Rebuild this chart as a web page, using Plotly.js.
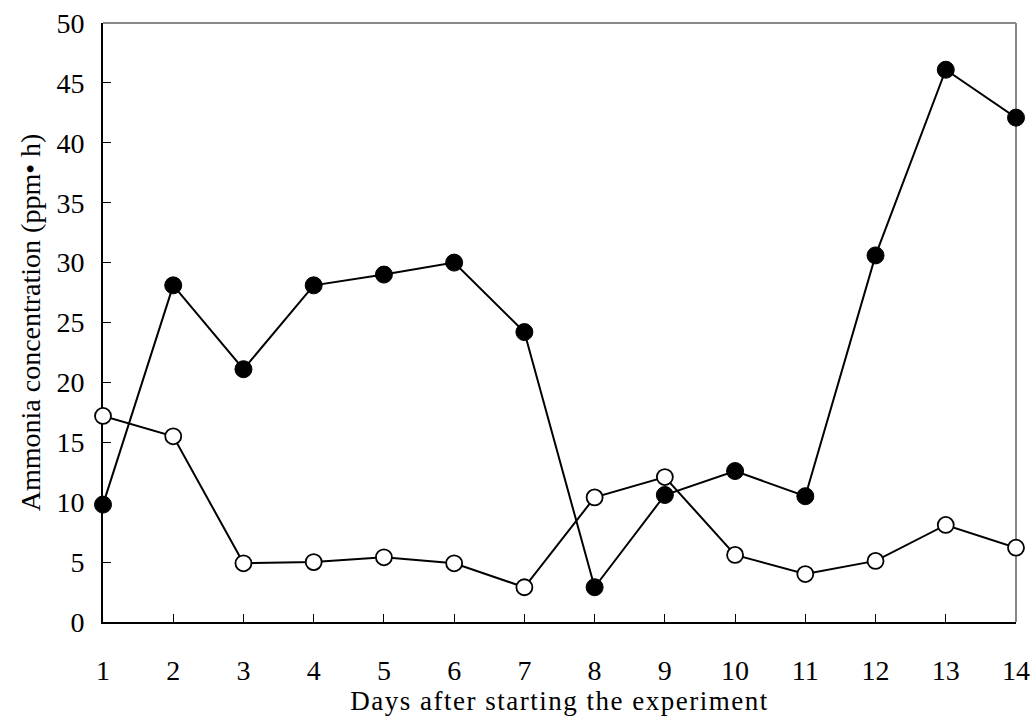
<!DOCTYPE html>
<html>
<head>
<meta charset="utf-8">
<script src="https://cdn.plot.ly/plotly-3.0.1.min.js"></script>
<style>html,body{margin:0;padding:0;background:#fff;}#chart{width:1034px;height:722px;}</style>
</head>
<body>
<div id="chart"></div>
<script>
const days = [1,2,3,4,5,6,7,8,9,10,11,12,13,14];
const filledSeries = [9.8,28.1,21.1,28.1,29.0,30.0,24.2,2.9,10.6,12.6,10.5,30.6,46.1,42.1];
const openSeries = [17.2,15.5,4.9,5.0,5.4,4.9,2.9,10.4,12.1,5.6,4.0,5.1,8.1,6.2];
const yTicks = [0,5,10,15,20,25,30,35,40,45,50];
const xTitle = "Days after starting the experiment";
const yTitle = "Ammonia concentration (ppm\u2022 h)";

const font = {family: "Liberation Serif, Times New Roman, serif", size: 28, color: "#000"};
const xTitleFont = {family: "Liberation Serif, Times New Roman, serif", size: 27, color: "#000"};

const traces = [
  {x: days, y: openSeries, type: "scatter", mode: "lines+markers", cliponaxis: false,
   line: {color: "#000", width: 2},
   marker: {symbol: "circle", size: 16, color: "#fff", line: {color: "#000", width: 1.8}}},
  {x: days, y: filledSeries, type: "scatter", mode: "lines+markers", cliponaxis: false,
   line: {color: "#000", width: 2},
   marker: {symbol: "circle", size: 17, color: "#000", line: {color: "#000", width: 1}}}
];

const layout = {
  width: 1034, height: 722,
  margin: {l: 103, r: 18, t: 23, b: 100},
  paper_bgcolor: "#fff", plot_bgcolor: "#fff",
  showlegend: false,
  font: font,
  xaxis: {
    range: [1, 14], tickvals: days, ticktext: days.map(String),
    showgrid: false, zeroline: false, layer: "below traces",
    showline: true, linecolor: "#000", linewidth: 2,
    ticks: "inside", ticklen: 8, tickwidth: 1, tickcolor: "#000",
    ticklabelstandoff: 22,
    tickfont: font,
    title: {text: xTitle, font: xTitleFont, standoff: 6}
  },
  yaxis: {
    range: [0, 50], tickvals: yTicks,
    showgrid: false, zeroline: false, layer: "below traces",
    showline: true, linecolor: "#000", linewidth: 2,
    ticks: "inside", ticklen: 8, tickwidth: 1, tickcolor: "#000",
    ticklabelstandoff: 11,
    tickfont: font,
    title: {text: yTitle, font: font, standoff: 8}
  },
  shapes: [
    {type: "line", xref: "paper", yref: "paper", x0: 0, x1: 1, y0: 1, y1: 1,
     line: {color: "#888", width: 2}, layer: "below"},
    {type: "line", xref: "paper", yref: "paper", x0: 1, x1: 1, y0: 0, y1: 1,
     line: {color: "#888", width: 2}, layer: "below"}
  ]
};

Plotly.newPlot("chart", traces, layout, {displayModeBar: false, staticPlot: true}).then(function(gd){
  const t = gd.querySelector('.xtitle');
  if (t) t.style.letterSpacing = '1.5px';
});
</script>
</body>
</html>
